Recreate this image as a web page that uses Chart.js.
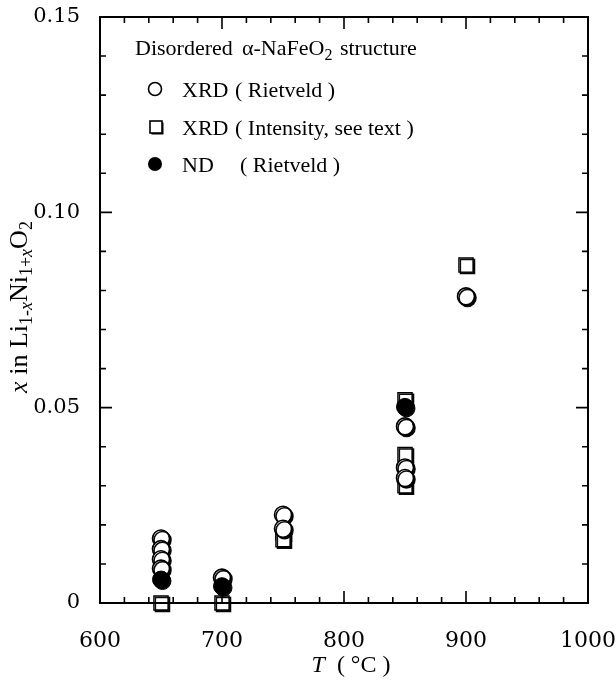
<!DOCTYPE html>
<html><head><meta charset="utf-8">
<script src="https://cdn.jsdelivr.net/npm/chart.js@4/dist/chart.umd.min.js"></script>
<style>html,body{margin:0;padding:0;background:#fff}canvas{display:block}</style>
</head><body>
<canvas id="c" width="616" height="681"></canvas>
<script>
// ---- data ----
const xrdRietveldT = [650, 650, 650, 650, 700, 750, 750, 850, 850, 850, 900];
const xrdRietveldX = [0.0165, 0.0138, 0.0112, 0.0088, 0.0065, 0.0226, 0.0190, 0.0452, 0.0347, 0.0320, 0.0785];
const xrdIntensityT = [650, 700, 750, 750, 850, 850, 850, 900];
const xrdIntensityX = [0.0, 0.0, 0.0180, 0.0162, 0.0520, 0.0380, 0.0300, 0.0865];
const ndT = [650, 700, 850];
const ndX = [0.0060, 0.0043, 0.0502];
const xTickLabels = ['600', '700', '800', '900', '1000'];
const yTickLabels = ['0', '0.05', '0.10', '0.15'];
const legendLabels = [['XRD', '( Rietveld )'], ['XRD', '( Intensity, see text )'], ['ND', '( Rietveld )']];

const pts = (xs, ys) => xs.map((x, i) => ({x: x, y: ys[i]}));
const SERIF = '"Liberation Serif", "Times New Roman", serif';
const TICKF = '"DejaVu Serif", serif';

const decor = {
  id: 'decor',
  beforeDatasetDraw(chart) {
    const c = chart.ctx; c.save();
    c.shadowColor = 'rgba(0,0,0,0.95)'; c.shadowOffsetX = 1.5; c.shadowOffsetY = 1.5; c.shadowBlur = 0;
  },
  afterDatasetDraw(chart) { chart.ctx.restore(); },
  afterDraw(chart) {
    const c = chart.ctx, a = chart.chartArea, xs = chart.scales.x, ys = chart.scales.y;
    c.save();
    c.strokeStyle = '#000'; c.lineWidth = 2;
    c.strokeRect(a.left, a.top, a.right - a.left, a.bottom - a.top);
    c.lineWidth = 1.6;
    c.beginPath();
    for (let v = 600; v <= 1000; v += 20) {
      const p = xs.getPixelForValue(v), L = (v % 100 === 0) ? 12 : 6;
      c.moveTo(p, a.bottom); c.lineTo(p, a.bottom - L);
      c.moveTo(p, a.top); c.lineTo(p, a.top + L);
    }
    for (let i = 0; i <= 15; i++) {
      const p = ys.getPixelForValue(i / 100), L = (i % 5 === 0) ? 12 : 6;
      c.moveTo(a.left, p); c.lineTo(a.left + L, p);
      c.moveTo(a.right, p); c.lineTo(a.right - L, p);
    }
    c.stroke();

    // legend
    c.fillStyle = '#000';
    c.textBaseline = 'alphabetic'; c.textAlign = 'left';
    c.font = '22px ' + SERIF;
    let x = a.left + 35, y = 55;
    c.fillText('Disordered', x, y);
    x = a.left + 142;
    c.fillText('\u03b1-NaFeO', x, y);
    x += c.measureText('\u03b1-NaFeO').width;
    c.font = '16px ' + SERIF; c.fillText('2', x, y + 5);
    x += c.measureText('2').width + 2;
    c.font = '22px ' + SERIF; c.fillText(' structure', x, y);

    const rows = [89, 127, 164];
    c.lineWidth = 1.6;
    c.beginPath(); c.arc(a.left + 55, rows[0], 6.5, 0, Math.PI * 2); c.fillStyle = '#fff'; c.fill(); c.stroke();
    c.save(); c.shadowColor = '#000'; c.shadowOffsetX = 1.5; c.shadowOffsetY = 1.5;
    c.fillStyle = '#fff'; c.fillRect(a.left + 50, rows[1] - 6, 12, 12); c.restore();
    c.strokeRect(a.left + 50, rows[1] - 6, 12, 12);
    c.beginPath(); c.arc(a.left + 55, rows[2], 7, 0, Math.PI * 2); c.fillStyle = '#000'; c.fill();
    c.fillStyle = '#000'; c.font = '22px ' + SERIF;
    const sx = [135, 135, 140];
    legendLabels.forEach((l, i) => {
      c.fillText(l[0], a.left + 82, rows[i] + 8);
      c.fillText(l[1], a.left + sx[i], rows[i] + 8);
    });

    // x title
    c.font = 'italic 24px ' + SERIF;
    const tW = c.measureText('T').width;
    c.font = '24px ' + SERIF;
    const rest = '  ( \u00b0C )';
    const rW = c.measureText(rest).width;
    let tx = (a.left + a.right) / 2 + 7 - (tW + rW) / 2;
    c.font = 'italic 24px ' + SERIF; c.fillText('T', tx, 672);
    c.font = '24px ' + SERIF; c.fillText(rest, tx + tW, 672);

    // y title
    const segs = [['x', 0, 1], [' in ', 0, 0], ['Li', 0, 0], ['1-', 1, 0], ['x', 1, 1], ['Ni', 0, 0],
                  ['1+', 1, 0], ['x', 1, 1], ['O', 0, 0], ['2', 1, 0]];
    const fontOf = s => (s[2] ? 'italic ' : '') + (s[1] ? '18px ' : '26px ') + SERIF;
    let tot = 0;
    segs.forEach(s => { c.font = fontOf(s); tot += c.measureText(s[0]).width; });
    c.save();
    c.translate(27, 307); c.rotate(-Math.PI / 2);
    let cx = -tot / 2;
    segs.forEach(s => { c.font = fontOf(s); c.fillText(s[0], cx, s[1] ? 5 : 0); cx += c.measureText(s[0]).width; });
    c.restore();
    c.restore();
  }
};

new Chart(document.getElementById('c'), {
  type: 'scatter',
  data: {
    datasets: [
      {label: 'ND (Rietveld)', data: pts(ndT, ndX), order: 0, pointStyle: 'circle', pointRadius: 8.5,
       backgroundColor: '#000', borderColor: '#000', borderWidth: 1, clip: false},
      {label: 'XRD (Rietveld)', data: pts(xrdRietveldT, xrdRietveldX), order: 1, pointStyle: 'circle', pointRadius: 8.5,
       backgroundColor: '#fff', borderColor: '#000', borderWidth: 1.6, clip: false},
      {label: 'XRD (Intensity, see text)', data: pts(xrdIntensityT, xrdIntensityX), order: 2, pointStyle: 'rect', pointRadius: 10,
       backgroundColor: '#fff', borderColor: '#000', borderWidth: 1.4, clip: false}
    ]
  },
  options: {
    responsive: false, animation: false, devicePixelRatio: 1,
    layout: {padding: {top: 17, right: 28, left: 0, bottom: 0}},
    plugins: {legend: {display: false}, tooltip: {enabled: false}},
    scales: {
      x: {
        type: 'linear', min: 600, max: 1000,
        grid: {display: false}, border: {display: false},
        afterBuildTicks: s => { s.ticks = xTickLabels.map(t => ({value: +t})); },
        ticks: {color: '#000', padding: 17, maxRotation: 0, font: {family: TICKF, size: 22},
                callback: (v) => xTickLabels.find(t => +t === v) || ''},
        afterFit: s => { s.height = 78; s.paddingLeft = 0; s.paddingRight = 0; }
      },
      y: {
        type: 'linear', min: 0, max: 0.15,
        grid: {display: false}, border: {display: false},
        afterBuildTicks: s => { s.ticks = yTickLabels.map(t => ({value: +t})); },
        ticks: {color: '#000', padding: 12, font: {family: TICKF, size: 21},
                callback: (v) => yTickLabels.find(t => Math.abs(+t - v) < 1e-9) || ''},
        afterFit: s => { s.width = 100; s.paddingTop = 0; s.paddingBottom = 0; }
      }
    }
  },
  plugins: [decor]
});
</script>
</body></html>
